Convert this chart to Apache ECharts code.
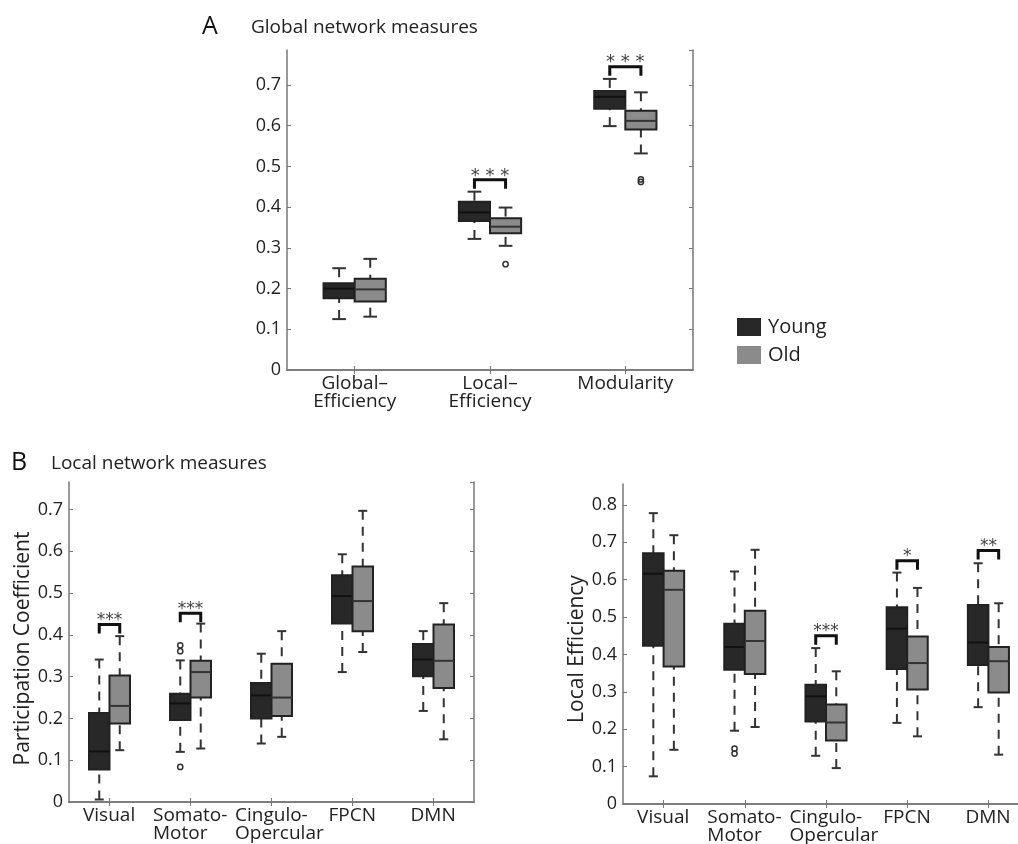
<!DOCTYPE html>
<html><head><meta charset="utf-8">
<script src="https://cdn.jsdelivr.net/npm/echarts@6/dist/echarts.min.js"></script>
<style>html,body{margin:0;padding:0;background:#fff}#c{width:1018px;height:844px}</style>
</head><body><div id="c"></div><script>
// ---------- DATA ----------
// each box: [lowerWhisker, Q1, median, Q3, upperWhisker]
const catsA = ['Global–\nEfficiency', 'Local–\nEfficiency', 'Modularity'];
const youngA = [[0.125,0.176,0.200,0.213,0.250],[0.322,0.366,0.387,0.413,0.438],[0.599,0.642,0.671,0.685,0.715]];
const oldA   = [[0.131,0.168,0.198,0.224,0.273],[0.305,0.336,0.352,0.373,0.399],[0.532,0.591,0.612,0.637,0.682]];
const outYoungA = [];
const outOldA = [[1,0.260],[2,0.462],[2,0.468]];
const sigA = [[1,0.467,'* * *'],[2,0.745,'* * *']];

const catsB = ['Visual', 'Somato-\nMotor', 'Cingulo-\nOpercular', 'FPCN', 'DMN'];
const youngPC = [[0.006,0.078,0.121,0.213,0.341],[0.120,0.196,0.236,0.259,0.339],[0.140,0.200,0.255,0.285,0.355],[0.311,0.427,0.493,0.543,0.593],[0.218,0.301,0.341,0.378,0.409]];
const oldPC   = [[0.124,0.188,0.230,0.303,0.397],[0.128,0.250,0.311,0.338,0.427],[0.156,0.206,0.250,0.331,0.409],[0.359,0.409,0.481,0.564,0.697],[0.150,0.273,0.338,0.425,0.476]];
const outYoungPC = [[1,0.084],[1,0.361],[1,0.375]];
const outOldPC = [];
const sigPC = [[0,0.425,'***'],[1,0.452,'***']];

const youngLE = [[0.074,0.423,0.616,0.671,0.778],[0.196,0.359,0.420,0.482,0.622],[0.129,0.221,0.288,0.319,0.417],[0.217,0.361,0.469,0.526,0.619],[0.259,0.372,0.432,0.532,0.644]];
const oldLE   = [[0.145,0.368,0.573,0.624,0.719],[0.206,0.348,0.436,0.517,0.680],[0.096,0.170,0.218,0.266,0.355],[0.181,0.306,0.377,0.448,0.578],[0.132,0.298,0.382,0.420,0.537]];
const outYoungLE = [[1,0.135],[1,0.148]];
const outOldLE = [];
const sigLE = [[2,0.450,'***'],[3,0.651,'*'],[4,0.678,'**']];

const groups = ['Young', 'Old'];
// ---------- STYLE ----------
const FONT = '"Open Sans", "Noto Sans", sans-serif';
const TXT = '#222';
const AX = '#777';
const COLORS = {Young: '#282828', Old: '#8b8b8b'};
const MEDIAN = {Young: '#111', Old: '#333'};
const XFS = 19;

const chart = echarts.init(document.getElementById('c'), null, {renderer: 'canvas'});

// multi-line category labels: first line centred on the tick, next lines left-aligned to it
const mctx = document.createElement('canvas').getContext('2d');
mctx.font = XFS + 'px "Open Sans"';
const richB = {};
catsB.forEach((c, i) => {
  const w = mctx.measureText(c.split('\n')[0]).width;
  richB['r' + i] = {width: Math.ceil(w), align: 'left', fontSize: XFS, lineHeight: 18, color: TXT, fontFamily: FONT};
});
function fmtB(v, i) {
  return v.split('\n').map(s => '{r' + i + '|' + s + '}').join('\n');
}

function boxRender(side, frac) {
  return function (params, api) {
    const c = api.value(0);
    const band = api.size([1, 0])[0];
    const w = band * frac;
    const cx = api.coord([c, 0])[0] + side * w / 2;
    const y = i => api.coord([c, api.value(i)])[1];
    const lo = y(1), q1 = y(2), md = y(3), q3 = y(4), hi = y(5);
    const cap = w * 0.22;
    const name = side < 0 ? 'Young' : 'Old';
    const ws = {stroke: '#333', lineWidth: 2, lineDash: [9, 7]};
    const cs = {stroke: '#333', lineWidth: 2};
    return {type: 'group', children: [
      {type: 'line', shape: {x1: cx, y1: hi, x2: cx, y2: q3}, style: ws},
      {type: 'line', shape: {x1: cx, y1: lo, x2: cx, y2: q1}, style: ws},
      {type: 'line', shape: {x1: cx - cap, y1: hi, x2: cx + cap, y2: hi}, style: cs},
      {type: 'line', shape: {x1: cx - cap, y1: lo, x2: cx + cap, y2: lo}, style: cs},
      {type: 'rect', shape: {x: cx - w / 2, y: q3, width: w, height: q1 - q3}, style: {fill: api.visual('color'), stroke: '#222', lineWidth: 2}},
      {type: 'line', shape: {x1: cx - w / 2, y1: md, x2: cx + w / 2, y2: md}, style: {stroke: MEDIAN[name], lineWidth: 2}}
    ]};
  };
}
function outRender(side, frac) {
  return function (params, api) {
    const c = api.value(0);
    const w = api.size([1, 0])[0] * frac;
    const p = api.coord([c, api.value(1)]);
    return {type: 'circle', shape: {cx: p[0] + side * w / 2, cy: p[1], r: 2.6}, style: {fill: 'none', stroke: '#333', lineWidth: 1.5}};
  };
}
function sigRender(frac, fs) {
  return function (params, api) {
    const c = api.value(0);
    const w = api.size([1, 0])[0] * frac;
    const x0 = api.coord([c, 0])[0];
    const yt = api.coord([c, api.value(1)])[1];
    const xl = x0 - w / 2, xr = x0 + w / 2;
    return {type: 'group', children: [
      {type: 'polyline', shape: {points: [[xl, yt + 9], [xl, yt], [xr, yt], [xr, yt + 9]]}, style: {fill: 'none', stroke: '#111', lineWidth: 3}},
      {type: 'text', style: {text: api.value(2), x: x0, y: yt - 4, align: 'center', verticalAlign: 'middle', fontSize: fs, fontFamily: 'DejaVu Sans', fill: '#444'}}
    ]};
  };
}

function axes(gi, cats, max, rich) {
  const line = {show: true, lineStyle: {color: AX, width: 1.5}};
  const tick = {show: true, inside: true, alignWithLabel: true, length: 4, lineStyle: {color: AX, width: 1}};
  const ytick = {show: true, inside: true, length: 4, lineStyle: {color: AX, width: 1}};
  const lbl = v => (Math.abs(v * 10 - Math.round(v * 10)) < 1e-6) ? (Math.round(v * 10) === 0 ? '0' : (Math.round(v * 10) / 10).toFixed(1)) : '';
  const xl = {fontSize: XFS, lineHeight: 18, color: TXT, fontFamily: FONT, margin: 5, interval: 0};
  if (rich) { xl.rich = rich; xl.formatter = fmtB; }
  return {
    x: [
      {gridIndex: gi, type: 'category', data: cats, position: 'bottom', axisLine: line, axisTick: tick, axisLabel: xl},
      {gridIndex: gi, type: 'category', data: cats, position: 'top', axisLine: line, axisTick: tick, axisLabel: {show: false}}
    ],
    y: [
      {gridIndex: gi, type: 'value', min: 0, max: max, interval: 0.1, position: 'left', splitLine: {show: false},
       axisLine: line, axisTick: ytick, axisLabel: {fontSize: 18, color: TXT, fontFamily: FONT, margin: 6, formatter: lbl, showMaxLabel: false}},
      {gridIndex: gi, type: 'value', min: 0, max: max, interval: 0.1, position: 'right', splitLine: {show: false},
       axisLine: line, axisTick: ytick, axisLabel: {show: false}}
    ]
  };
}

const aA = axes(0, catsA, 0.786, null);
const aP = axes(1, catsB, 0.766, richB);
const aL = axes(2, catsB, 0.856, richB);
aP.y[0].name = 'Participation Coefficient';
aL.y[0].name = 'Local Efficiency';
aP.y[0].nameTextStyle = {fontSize: 21, color: TXT, fontFamily: FONT, padding: [0, 13, 0, 0]};
aL.y[0].nameTextStyle = {fontSize: 21, color: TXT, fontFamily: FONT, padding: [0, 10, 0, 0]};
aP.y[0].nameLocation = 'middle'; aP.y[0].nameGap = 29;
aL.y[0].nameLocation = 'middle'; aL.y[0].nameGap = 32;

const panels = [
  {xi: 0, yi: 0, frac: 0.23, young: youngA, old: oldA, oy: outYoungA, oo: outOldA, sig: sigA, fs: 18},
  {xi: 2, yi: 2, frac: 0.253, young: youngPC, old: oldPC, oy: outYoungPC, oo: outOldPC, sig: sigPC, fs: 17},
  {xi: 4, yi: 4, frac: 0.253, young: youngLE, old: oldLE, oy: outYoungLE, oo: outOldLE, sig: sigLE, fs: 17}
];
const series = [];
panels.forEach(p => {
  [['Young', -1, p.young, p.oy], ['Old', 1, p.old, p.oo]].forEach(([nm, side, boxes, outs]) => {
    series.push({type: 'custom', name: nm, xAxisIndex: p.xi, yAxisIndex: p.yi, itemStyle: {color: COLORS[nm]},
      renderItem: boxRender(side, p.frac), data: boxes.map((b, i) => [i].concat(b)), encode: {x: 0, y: [1, 2, 3, 4, 5]}, silent: true});
    series.push({type: 'custom', name: nm + '-outliers', xAxisIndex: p.xi, yAxisIndex: p.yi,
      renderItem: outRender(side, p.frac), data: outs, encode: {x: 0, y: 1}, silent: true});
  });
  series.push({type: 'custom', name: 'sig', xAxisIndex: p.xi, yAxisIndex: p.yi,
    renderItem: sigRender(p.frac, p.fs), data: p.sig, encode: {x: 0, y: 1}, silent: true});
});

chart.setOption({
  animation: false,
  textStyle: {fontFamily: FONT},
  title: [
    {text: 'A', left: 202, top: 14, padding: 0, textStyle: {fontSize: 25, fontWeight: 'normal', color: '#111', fontFamily: FONT}},
    {text: 'Global network measures', left: 251, top: 18, padding: 0, textStyle: {fontSize: 19, fontWeight: 'normal', color: TXT, fontFamily: FONT}},
    {text: 'B', left: 11, top: 450, padding: 0, textStyle: {fontSize: 25, fontWeight: 'normal', color: '#111', fontFamily: FONT}},
    {text: 'Local network measures', left: 51, top: 454, padding: 0, textStyle: {fontSize: 19, fontWeight: 'normal', color: TXT, fontFamily: FONT}}
  ],
  legend: {data: groups, orient: 'vertical', left: 737, top: 317, padding: 0, itemWidth: 24, itemHeight: 18, itemGap: 8,
    icon: 'rect', itemStyle: {borderWidth: 0}, selectedMode: false,
    textStyle: {fontSize: 20, color: TXT, fontFamily: FONT, padding: [0, 0, 0, 2]}},
  grid: [
    {left: 287, top: 50, width: 406, height: 320, outerBoundsMode: 'none', containLabel: false},
    {left: 69, top: 482, width: 405, height: 320, outerBoundsMode: 'none', containLabel: false},
    {left: 623, top: 484, width: 406, height: 320, outerBoundsMode: 'none', containLabel: false}
  ],
  xAxis: [].concat(aA.x, aP.x, aL.x),
  yAxis: [].concat(aA.y, aP.y, aL.y),
  series: series
});
</script></body></html>
